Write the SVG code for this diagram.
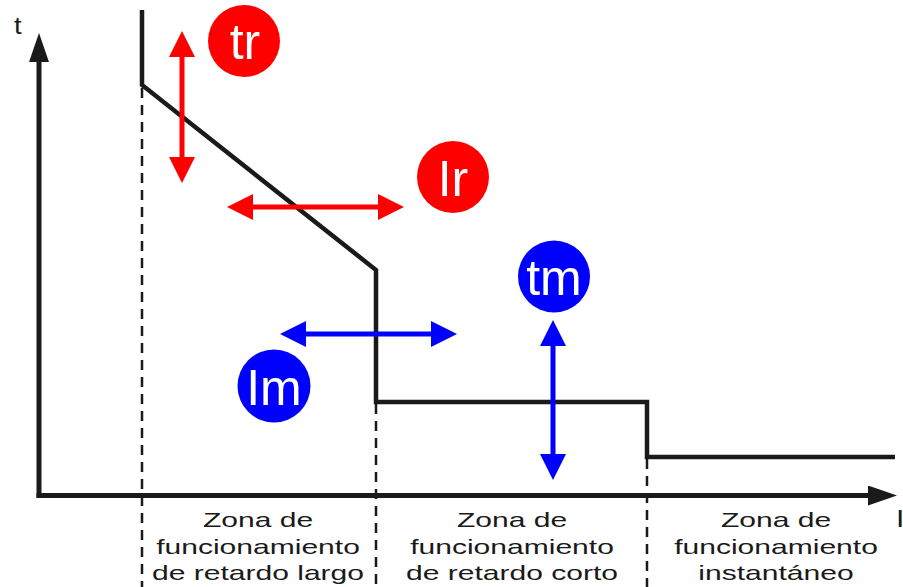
<svg xmlns="http://www.w3.org/2000/svg" width="903" height="587" viewBox="0 0 903 587">
  <style>
    .axis { stroke: #1a1a1a; stroke-width: 5; fill: none; }
    .curve { stroke: #1a1a1a; stroke-width: 4.5; fill: none; stroke-linejoin: miter; }
    .dash { stroke: #1a1a1a; stroke-width: 2.5; stroke-dasharray: 10 7; fill: none; }
    .red { stroke: #ff0000; stroke-width: 5; fill: none; }
    .blue { stroke: #0000ff; stroke-width: 5; fill: none; }
    .lbl { font-family: "Liberation Sans", Arial, sans-serif; font-size: 23px; fill: #1a1a1a; }
    .zone { font-family: "Liberation Sans", Arial, sans-serif; font-size: 21px; fill: #1a1a1a; text-anchor: middle; }
    .ctext { font-family: "Liberation Sans", Arial, sans-serif; font-size: 50px; fill: #ffffff; text-anchor: middle; }
  </style>
  <defs>
    <marker id="ah-black" markerUnits="userSpaceOnUse" markerWidth="30" markerHeight="22" refX="13" refY="10" orient="auto">
      <path d="M0,0 L29,10 L0,20 z" fill="#1a1a1a"/>
    </marker>
    <marker id="ah-red" markerUnits="userSpaceOnUse" markerWidth="27" markerHeight="27" refX="10" refY="13" orient="auto-start-reverse">
      <path d="M0,0 L26,13 L0,26 z" fill="#ff0000"/>
    </marker>
    <marker id="ah-blue" markerUnits="userSpaceOnUse" markerWidth="27" markerHeight="27" refX="10" refY="13" orient="auto-start-reverse">
      <path d="M0,0 L26,13 L0,26 z" fill="#0000ff"/>
    </marker>
  </defs>

  <g id="axes">
    <line class="axis" x1="39" y1="497.5" x2="39" y2="49" marker-end="url(#ah-black)"/>
    <line class="axis" x1="36.5" y1="495.5" x2="881" y2="495.5" marker-end="url(#ah-black)"/>
    <text class="lbl" transform="translate(14,34) scale(1.2,1)">t</text>
    <text class="lbl" transform="translate(896,527) scale(1.3,1)">I</text>
  </g>

  <g id="zone-lines">
    <line class="dash" x1="142" y1="88" x2="142" y2="587"/>
    <line class="dash" x1="376" y1="404" x2="376" y2="587"/>
    <line class="dash" x1="647" y1="459" x2="647" y2="587"/>
  </g>

  <g id="curve">
    <path class="curve" d="M142,10 L142,85 L376,270 L376,402 L647,402 L647,457 L895,457"/>
  </g>

  <g id="connectors">
    <line class="red" x1="182" y1="47" x2="182" y2="167" marker-start="url(#ah-red)" marker-end="url(#ah-red)"/>
    <line class="red" x1="243" y1="207" x2="388" y2="207" marker-start="url(#ah-red)" marker-end="url(#ah-red)"/>
    <line class="blue" x1="296" y1="334" x2="441" y2="334" marker-start="url(#ah-blue)" marker-end="url(#ah-blue)"/>
    <line class="blue" x1="553" y1="336" x2="553" y2="464" marker-start="url(#ah-blue)" marker-end="url(#ah-blue)"/>
  </g>

  <g id="node-tr">
    <circle cx="244" cy="41" r="36" fill="#ff0000"/>
    <text class="ctext" x="245" y="59">tr</text>
  </g>
  <g id="node-Ir">
    <circle cx="453" cy="177" r="36" fill="#ff0000"/>
    <text class="ctext" x="453" y="196">Ir</text>
  </g>
  <g id="node-tm">
    <circle cx="554" cy="276.5" r="36" fill="#0000ff"/>
    <text class="ctext" x="554" y="295">tm</text>
  </g>
  <g id="node-Im">
    <circle cx="274" cy="386" r="36.5" fill="#0000ff"/>
    <text class="ctext" x="274" y="405">Im</text>
  </g>

  <g id="zone-largo">
    <text class="zone" transform="translate(258,527) scale(1.43,1)">Zona de</text>
    <text class="zone" transform="translate(258,554) scale(1.43,1)">funcionamiento</text>
    <text class="zone" transform="translate(258,580) scale(1.43,1)">de retardo largo</text>
  </g>
  <g id="zone-corto">
    <text class="zone" transform="translate(512,527) scale(1.43,1)">Zona de</text>
    <text class="zone" transform="translate(512,554) scale(1.43,1)">funcionamiento</text>
    <text class="zone" transform="translate(512,580) scale(1.43,1)">de retardo corto</text>
  </g>
  <g id="zone-instantaneo">
    <text class="zone" transform="translate(776,527) scale(1.43,1)">Zona de</text>
    <text class="zone" transform="translate(776,554) scale(1.43,1)">funcionamiento</text>
    <text class="zone" transform="translate(776,580) scale(1.43,1)">instantáneo</text>
  </g>
</svg>
